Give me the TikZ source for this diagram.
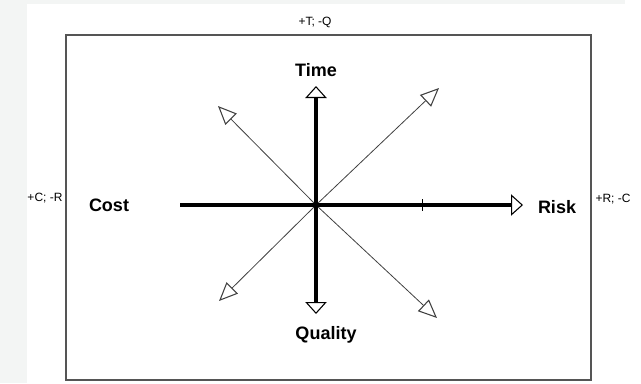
\documentclass[tikz,border=0pt]{standalone}
\usepackage{fontspec}
\setmainfont{Liberation Sans}
\usepackage{xcolor}
\usetikzlibrary{positioning,arrows.meta}

\definecolor{panelgray}{HTML}{F3F5F4}
\definecolor{framegray}{HTML}{555555}

\begin{document}
\begin{tikzpicture}[x=0.75pt, y=-0.75pt,
    axis/.style={line width=3.6pt, -{Triangle[open, length=9pt, width=16pt, line width=0.8pt]}},
    diag/.style={line width=0.6pt, black!75, -{Triangle[open, length=14pt, width=12pt, line width=0.8pt]}},
    lbl/.style={font=\bfseries\fontsize{13.5}{16}\selectfont},
    side/.style={font=\fontsize{9}{11}\selectfont}]
  \useasboundingbox (0,0) rectangle (641,383);
  \fill[panelgray] (0,0) rectangle (27,383);
  \fill[panelgray] (27,0) rectangle (625,4);
  \draw[framegray, line width=1.2pt] (66,35) rectangle (591,380);

  \coordinate (o) at (316,205);
  \coordinate (tT) at (316,86);
  \coordinate (tQ) at (316,314);
  \coordinate (tC) at (180,205);
  \coordinate (tR) at (523,205);
  \coordinate (ul) at (218,106);
  \coordinate (ur) at (439,88);
  \coordinate (ll) at (219,301);
  \coordinate (lr) at (437,318);

  \draw[diag] (o) -- (ul);
  \draw[diag] (o) -- (ur);
  \draw[diag] (o) -- (ll);
  \draw[diag] (o) -- (lr);
  \draw[line width=3.6pt] (tC) -- (o);
  \draw[axis] (o) -- (tR);
  \draw[axis] (o) -- (tT);
  \draw[axis] (o) -- (tQ);
  \draw[line width=0.6pt] (422,199) -- (422,211);

  \node[lbl] (time) at (316,70) {Time};
  \node[lbl] (quality) at (326,335) {Quality};
  \node[lbl] (cost) at (109,205) {Cost};
  \node[lbl] (risk) at (557,207) {Risk};
  \node[side] (tq) at (315,22) {+T; -Q};
  \node[side] (cr) at (45,198) {+C; -R};
  \node[side] (rc) at (613,199) {+R; -C};
\end{tikzpicture}
\end{document}
